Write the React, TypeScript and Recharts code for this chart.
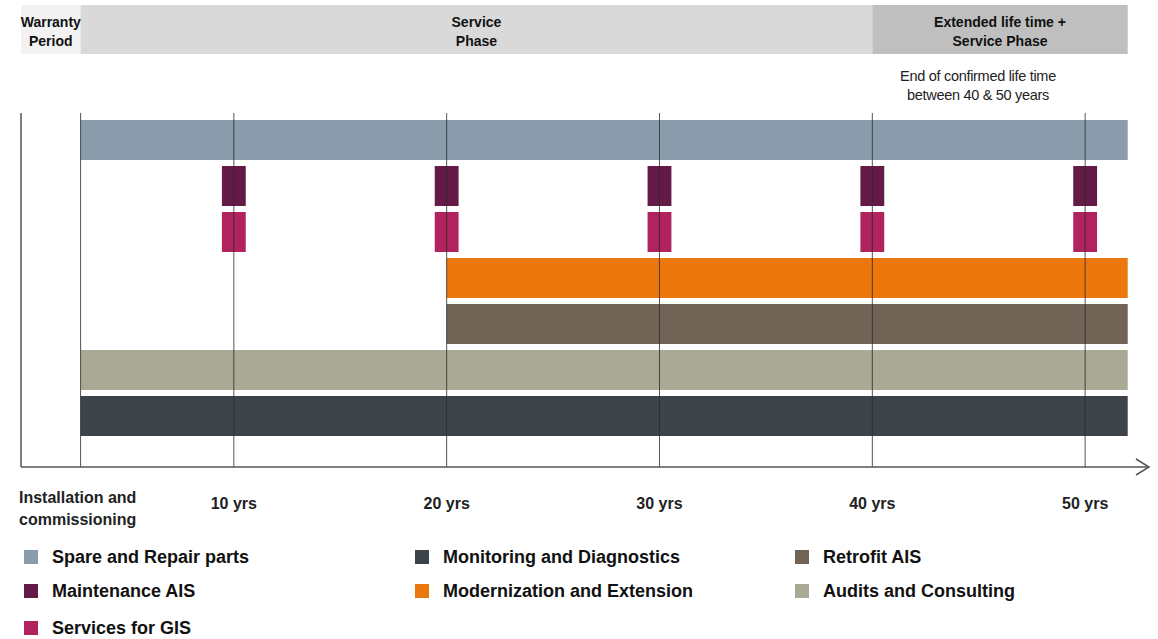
import { Bar, BarChart, Cell, LabelList, ReferenceLine, XAxis, YAxis } from 'recharts';

// rows of the timeline, top to bottom
const services = [
  'Spare and Repair parts',
  'Maintenance AIS',
  'Services for GIS',
  'Modernization and Extension',
  'Retrofit AIS',
  'Audits and Consulting',
  'Monitoring and Diagnostics',
];
const serviceColors = ['#8a9bab', '#641a46', '#b0235f', '#ec780d', '#726357', '#a9a996', '#3d4449'];
// continuous services: start year (null = no continuous bar), all run to the end
const spanStarts = [2.8, null, null, 20, 20, 2.8, 2.8];
const spanEnd = 52;

// periodic services (boxes around every 10 years)
const inspectionRows = ['Maintenance AIS', 'Services for GIS'];
const inspectionYears = [10, 20, 30, 40, 50];
const inspectionHalfWidth = 0.56;

// header phases
const phaseNames = [
  ['Warranty', 'Period'],
  ['Service', 'Phase'],
  ['Extended life time +', 'Service Phase'],
];
const phaseBounds = [0, 2.8, 40, 52];
const phaseColors = ['#f2f2f2', '#d9d9d9', '#bfbfbf'];
const lifeNote = ['End of confirmed life time', 'between 40 & 50 years'];

// axis
const tickYears = [0, 10, 20, 30, 40, 50];
const tickLabels = ['Installation and commissioning', '10 yrs', '20 yrs', '30 yrs', '40 yrs', '50 yrs'];
const milestoneYears = [2.8, 10, 20, 30, 40, 50];

const legendColumns = [
  ['Spare and Repair parts', 'Maintenance AIS', 'Services for GIS'],
  ['Monitoring and Diagnostics', 'Modernization and Extension'],
  ['Retrofit AIS', 'Audits and Consulting'],
];

const FONT = "'Liberation Sans', Arial, sans-serif";
const DOMAIN: [number, number] = [0, 53];
const boxKeys = inspectionYears.map((_, k) => `box${k}`);

const rows = services.map((name, i) => {
  const row: any = {
    name,
    span: spanStarts[i] == null ? null : [spanStarts[i], spanEnd],
  };
  inspectionYears.forEach((yr, k) => {
    row[boxKeys[k]] = inspectionRows.includes(name)
      ? [yr - inspectionHalfWidth, yr + inspectionHalfWidth]
      : null;
  });
  return row;
});

const phaseRow: any = { name: 'phase' };
phaseNames.forEach((_, i) => {
  phaseRow[`p${i}`] = phaseBounds[i + 1] - phaseBounds[i];
});

const renderTick = (props: any) => {
  const { x, y, payload } = props;
  const label = tickLabels[tickYears.indexOf(payload.value)];
  if (payload.value === 0) {
    const [first, ...rest] = label.split(' ');
    return (
      <text x={x - 2} y={y} fill="#222" fontSize={16} fontWeight="bold" fontFamily={FONT} textAnchor="start">
        <tspan x={x - 2} dy={28}>{`${first} ${rest[0]}`}</tspan>
        <tspan x={x - 2} dy={22}>{rest.slice(1).join(' ')}</tspan>
      </text>
    );
  }
  return (
    <text x={x} y={y + 34} fill="#222" fontSize={16} fontWeight="bold" fontFamily={FONT} textAnchor="middle">
      {label}
    </text>
  );
};

const renderPhaseLabel = (props: any, idx: number) => {
  const { x, y, width } = props;
  const cx = Number(x) + Number(width) / 2;
  return (
    <text x={cx} y={y} fill="#111" fontSize={14} fontWeight="bold" fontFamily={FONT} textAnchor="middle">
      <tspan x={cx} dy={22}>{phaseNames[idx][0]}</tspan>
      <tspan x={cx} dy={19}>{phaseNames[idx][1]}</tspan>
    </text>
  );
};

export default function App() {
  const legendX = [24, 415, 795];
  const legendY = [550, 584, 621];
  return (
    <div style={{ position: 'absolute', left: 0, top: 0, width: 1158, height: 639, background: '#fff', fontFamily: FONT }}>
      <svg width={0} height={0} style={{ position: 'absolute' }}>
        <defs>
          <marker id="axisArrow" markerUnits="userSpaceOnUse" markerWidth={16} markerHeight={18} viewBox="0 0 16 18" refX={14} refY={9} orient="auto">
            <path d="M1,1 L14,9 L1,17" fill="none" stroke="#555" strokeWidth={1.5} />
          </marker>
        </defs>
      </svg>

      {/* phase header */}
      <div style={{ position: 'absolute', left: 0, top: 0 }}>
        <BarChart width={1158} height={54} layout="vertical" data={[phaseRow]} margin={{ top: 5, right: 9, bottom: 0, left: 21 }} barCategoryGap={0}>
          <XAxis type="number" domain={DOMAIN} hide />
          <YAxis type="category" dataKey="name" hide />
          {phaseNames.map((_, i) => (
            <Bar key={i} dataKey={`p${i}`} stackId="phase" fill={phaseColors[i]} isAnimationActive={false}>
              <LabelList dataKey={`p${i}`} content={(p: any) => renderPhaseLabel(p, i)} />
            </Bar>
          ))}
        </BarChart>
      </div>

      <svg width={1158} height={110} style={{ position: 'absolute', left: 0, top: 0 }}>
        <text x={978} y={81} textAnchor="middle" fontSize={14.5} fill="#222" fontFamily={FONT} letterSpacing={-0.3}>
          {lifeNote[0]}
        </text>
        <text x={978} y={100} textAnchor="middle" fontSize={14.5} fill="#222" fontFamily={FONT} letterSpacing={-0.3}>
          {lifeNote[1]}
        </text>
      </svg>

      {/* timeline */}
      <div style={{ position: 'absolute', left: 0, top: 0 }}>
        <BarChart
          width={1158}
          height={540}
          layout="vertical"
          data={rows}
          margin={{ top: 113, right: 9, bottom: 13, left: 0 }}
          barGap={-40}
        >
          <XAxis
            type="number"
            domain={DOMAIN}
            ticks={tickYears}
            interval={0}
            allowDataOverflow
            tickLine={false}
            axisLine={{ stroke: '#555', strokeWidth: 1.5, markerEnd: 'url(#axisArrow)' } as any}
            tick={renderTick}
            height={60}
          />
          <YAxis
            type="category"
            dataKey="name"
            width={21}
            tick={false}
            tickLine={false}
            axisLine={{ stroke: '#555', strokeWidth: 1.5 }}
            padding={{ top: 4, bottom: 28 }}
          />
          {['span', ...boxKeys].map((key) => (
            <Bar key={key} dataKey={key} barSize={40} isAnimationActive={false}>
              {rows.map((_, i) => (
                <Cell key={`cell-${i}`} fill={serviceColors[i]} />
              ))}
            </Bar>
          ))}
          {milestoneYears.map((yr) => (
            <ReferenceLine key={yr} x={yr} stroke="#2a2a2a" strokeWidth={1} strokeOpacity={0.8} />
          ))}
        </BarChart>
      </div>

      {/* legend */}
      {legendColumns.map((col, c) =>
        col.map((name, r) => (
          <div
            key={name}
            style={{ position: 'absolute', left: legendX[c], top: legendY[r], height: 14, display: 'flex', alignItems: 'center', whiteSpace: 'nowrap' }}
          >
            <span style={{ width: 14, height: 14, background: serviceColors[services.indexOf(name)], marginRight: 14 }} />
            <span style={{ fontSize: 18, fontWeight: 'bold', color: '#111' }}>{name}</span>
          </div>
        ))
      )}
    </div>
  );
}
